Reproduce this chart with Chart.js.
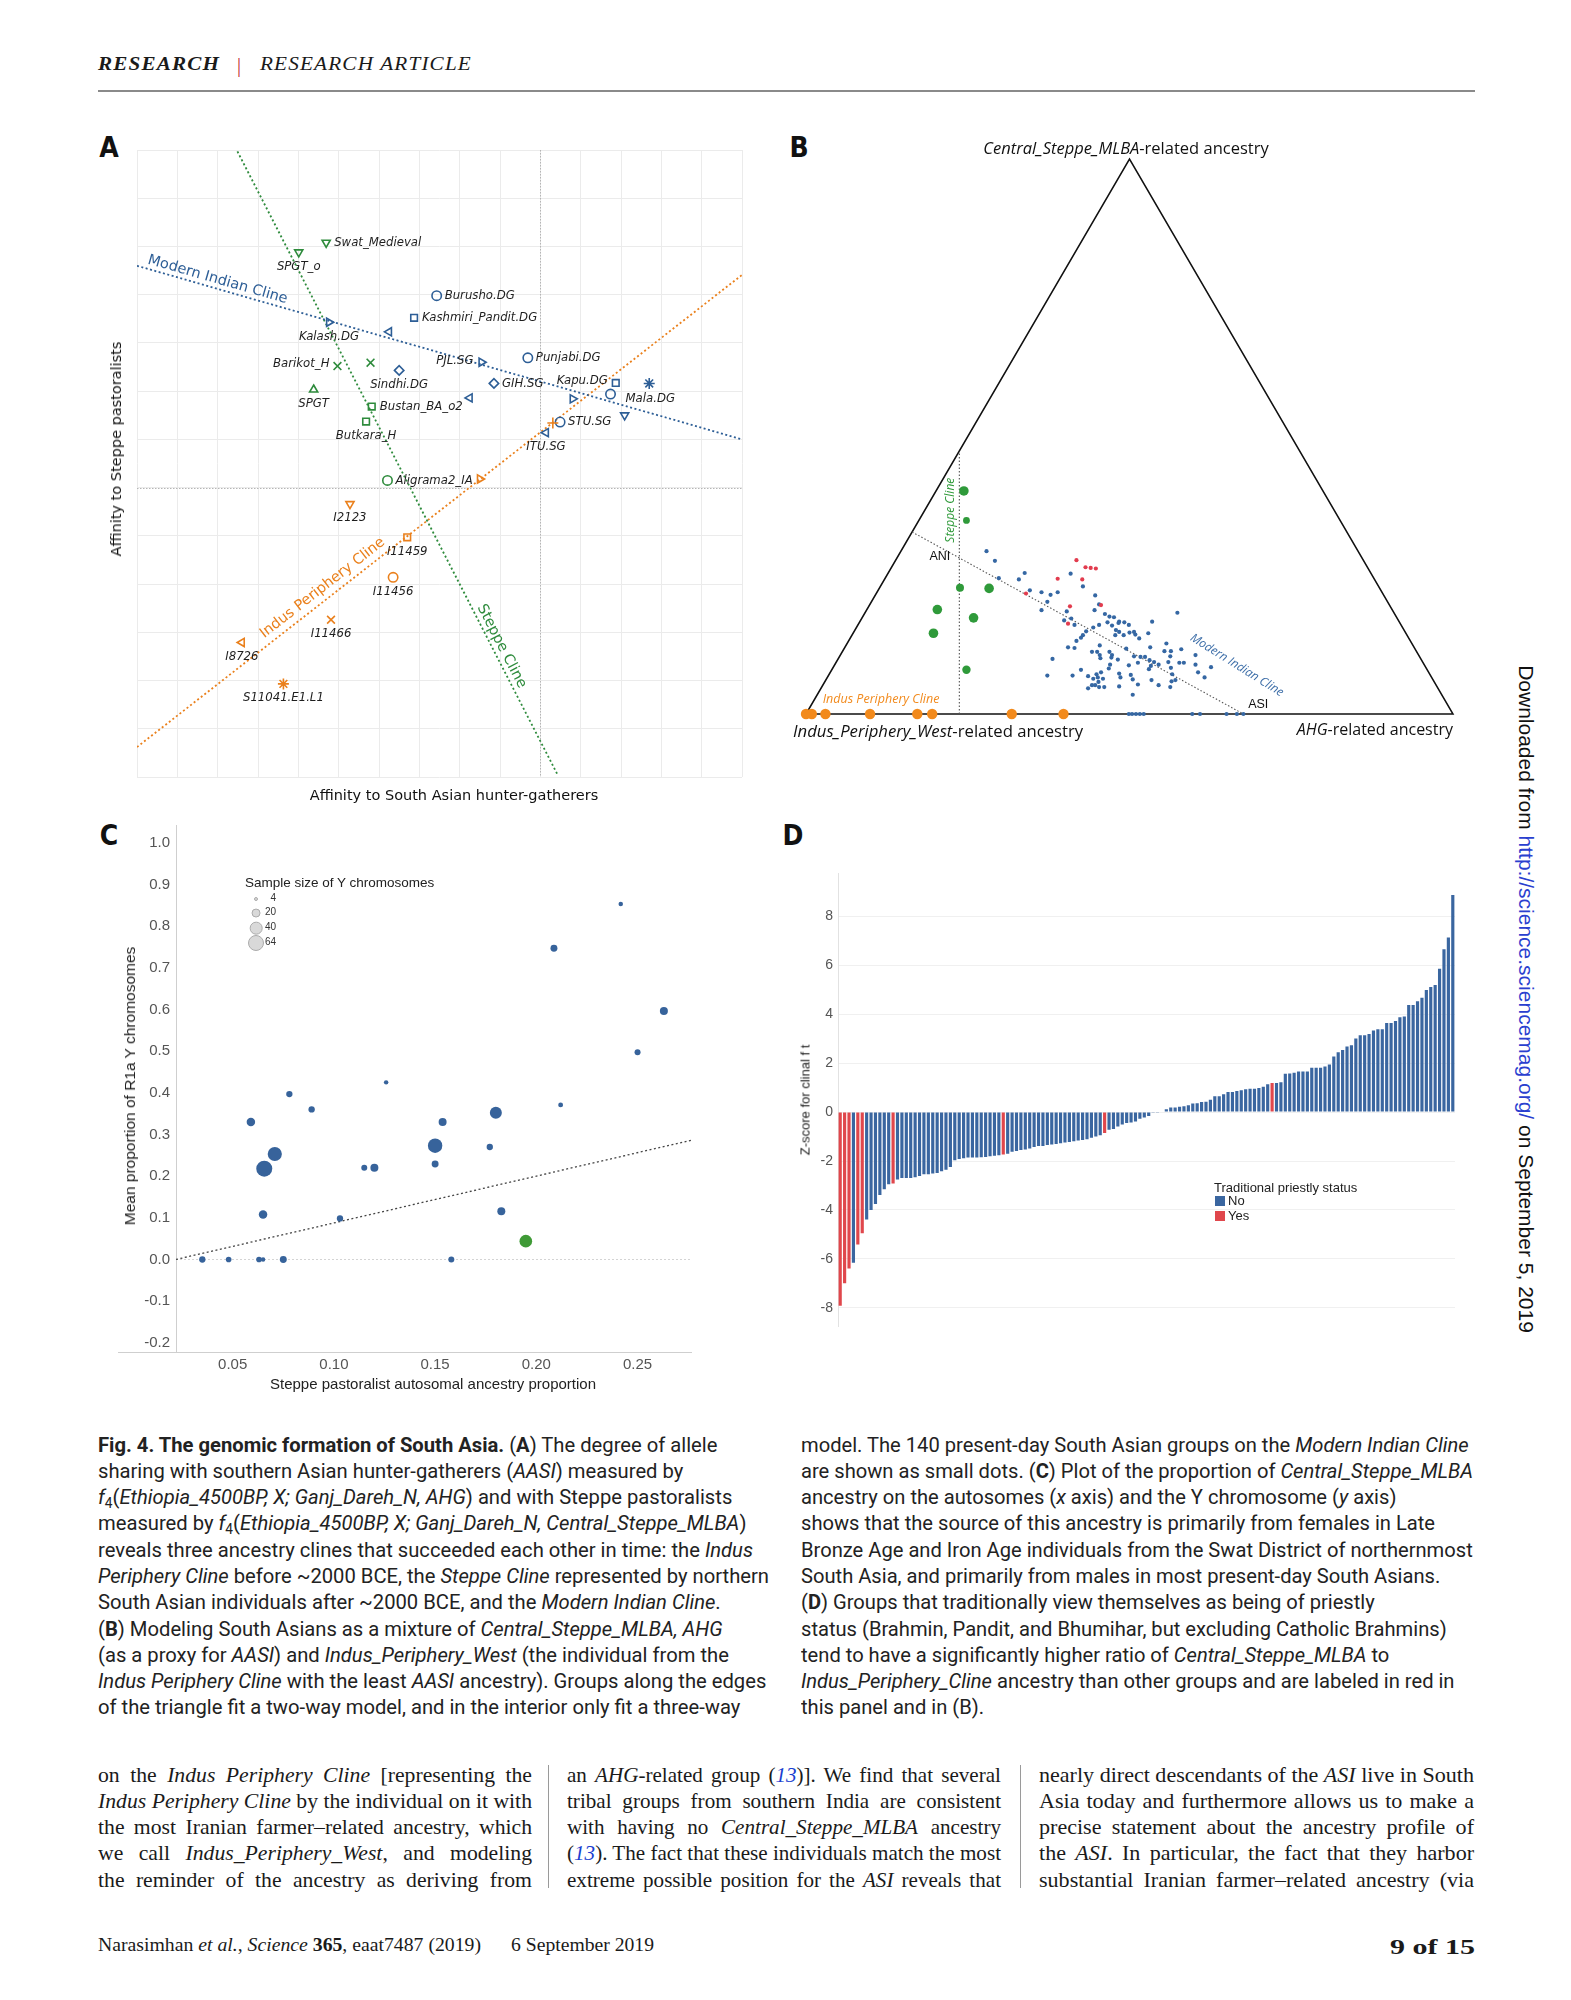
<!DOCTYPE html>
<html>
<head>
<meta charset="utf-8">
<title>Fig. 4. The genomic formation of South Asia</title>
<script src="https://cdn.jsdelivr.net/npm/chart.js@4.4.1/dist/chart.umd.min.js"></script>
<style>
  body { margin: 0; background: #fff; }
  #page { position: relative; width: 1571px; height: 2000px; overflow: hidden; background: #fff; color: #1a1a1a; font-family: "Liberation Sans", Arial, sans-serif; }
  .t { position: absolute; white-space: nowrap; }
  .mid { transform: translate(-50%, -50%); }
  .rot { transform: translate(-50%, -50%) rotate(-90deg); }
  .fit { transform-origin: left center; }
  canvas { position: absolute; }
  .letter { position: absolute; transform: translate(-50%, -50%); font: bold 28px "Liberation Sans Narrow", "DejaVu Sans Condensed", sans-serif; color: #111; }
  .cap { position: absolute; font-family: Roboto, "Liberation Sans", sans-serif; font-size: 21px; line-height: 26.3px; color: #222; }
  .cap div, .body div { width: max-content; white-space: nowrap; transform-origin: left center; }
  .cap sub { font-size: 0.68em; vertical-align: -0.3em; line-height: 0; }
  .body { position: absolute; width: 434px; font-family: "Liberation Serif", "DejaVu Serif", serif; font-size: 21px; line-height: 26.2px; color: #1a1a1a; }
  .ref { color: #1a3fd0; font-style: italic; }
  .sep { position: absolute; width: 1px; background: #9a9a9a; }
  .lgc { position: absolute; border-radius: 50%; background: #d9d9d9; border: 1px solid #ababab; box-sizing: border-box; transform: translate(-50%, -50%); }
</style>
</head>
<body>
<div id="page">

  <!-- running head -->
  <div class="t fit" data-w="122" style="left:98px;top:54px;line-height:24px;font:italic bold 18px 'Liberation Serif',serif;letter-spacing:1px;">RESEARCH</div>
  <div class="t" style="left:237px;top:54px;line-height:24px;font:20px 'Liberation Serif',serif;color:#c0272d;">|</div>
  <div class="t fit" data-w="212" style="left:260px;top:54px;line-height:24px;font:italic 18px 'Liberation Serif',serif;letter-spacing:1px;">RESEARCH ARTICLE</div>
  <div style="position:absolute;left:98px;top:90px;width:1377px;height:1.5px;background:#8a8a8a;"></div>

  <!-- panel letters -->
  <div class="letter" style="left:109px;top:147px;">A</div>
  <div class="letter" style="left:799px;top:147px;">B</div>
  <div class="letter" style="left:109px;top:835px;">C</div>
  <div class="letter" style="left:793px;top:835px;">D</div>

  <!-- charts -->
  <canvas id="chartA" width="670" height="680" style="left:90px;top:130px;"></canvas>
  <canvas id="chartB" width="700" height="620" style="left:780px;top:130px;"></canvas>
  <canvas id="chartC" width="610" height="580" style="left:95px;top:810px;"></canvas>
  <canvas id="chartD" width="690" height="480" style="left:780px;top:860px;"></canvas>

  <!-- panel A titles -->
  <div class="t rot" style="left:116px;top:449px;font:14.5px 'DejaVu Sans',sans-serif;color:#111;">Affinity to Steppe pastoralists</div>
  <div class="t mid" style="left:454px;top:795px;font:14.5px 'DejaVu Sans',sans-serif;color:#111;">Affinity to South Asian hunter-gatherers</div>

  <!-- panel B vertex labels -->
  <div class="t mid" style="left:1126px;top:147px;font:16.5px 'Open Sans',sans-serif;color:#111;"><i>Central_Steppe_MLBA</i>-related ancestry</div>
  <div class="t" style="left:793px;top:719px;line-height:22px;font:16.7px 'Open Sans',sans-serif;color:#111;"><i>Indus_Periphery_West</i>-related ancestry</div>
  <div class="t" style="right:118px;top:718px;line-height:22px;font:16px 'Open Sans',sans-serif;color:#111;"><i>AHG</i>-related ancestry</div>

  <!-- panel C titles and size legend -->
  <div class="t rot" style="left:130px;top:1086px;font:15.5px 'Liberation Sans',Arial,sans-serif;color:#222;">Mean proportion of R1a Y chromosomes</div>
  <div class="t mid" style="left:433px;top:1383px;font:15px 'Liberation Sans',Arial,sans-serif;color:#222;">Steppe pastoralist autosomal ancestry proportion</div>
  <div class="t" style="left:245px;top:875px;line-height:16px;font:13.5px 'Liberation Sans',Arial,sans-serif;color:#222;">Sample size of Y chromosomes</div>
  <div id="sizeLegend"></div>

  <!-- panel D titles and legend -->
  <div class="t rot" style="left:805px;top:1100px;font:13px 'Liberation Sans',Arial,sans-serif;color:#222;">Z-score for clinal f t</div>
  <div class="t" style="left:1214px;top:1180px;line-height:16px;font:13px 'Liberation Sans',Arial,sans-serif;color:#222;">Traditional priestly status</div>
  <div style="position:absolute;left:1215px;top:1196px;width:10px;height:10px;background:#3a66a0;"></div>
  <div class="t" style="left:1228px;top:1193px;line-height:16px;font:13px 'Liberation Sans',Arial,sans-serif;color:#222;">No</div>
  <div style="position:absolute;left:1215px;top:1211px;width:10px;height:10px;background:#e0474c;"></div>
  <div class="t" style="left:1228px;top:1208px;line-height:16px;font:13px 'Liberation Sans',Arial,sans-serif;color:#222;">Yes</div>

  <!-- side stamp -->
  <div class="t" style="left:1526px;top:999px;transform:translate(-50%,-50%) rotate(90deg);font:21px 'Liberation Sans',Arial,sans-serif;color:#111;">Downloaded from <span style="color:#2a3fcf;">http://science.sciencemag.org/</span> on September 5, 2019</div>

  <!-- caption -->
  <div class="cap" id="capL" style="left:98px;top:1431.5px;">
    <div><b>Fig. 4. The genomic formation of South Asia.</b> (<b>A</b>) The degree of allele</div>
    <div>sharing with southern Asian hunter-gatherers (<i>AASI</i>) measured by</div>
    <div><i>f</i><sub>4</sub>(<i>Ethiopia_4500BP, X; Ganj_Dareh_N, AHG</i>) and with Steppe pastoralists</div>
    <div>measured by <i>f</i><sub>4</sub>(<i>Ethiopia_4500BP, X; Ganj_Dareh_N, Central_Steppe_MLBA</i>)</div>
    <div>reveals three ancestry clines that succeeded each other in time: the <i>Indus</i></div>
    <div><i>Periphery Cline</i> before ~2000 BCE, the <i>Steppe Cline</i> represented by northern</div>
    <div>South Asian individuals after ~2000 BCE, and the <i>Modern Indian Cline</i>.</div>
    <div>(<b>B</b>) Modeling South Asians as a mixture of <i>Central_Steppe_MLBA, AHG</i></div>
    <div>(as a proxy for <i>AASI</i>) and <i>Indus_Periphery_West</i> (the individual from the</div>
    <div><i>Indus Periphery Cline</i> with the least <i>AASI</i> ancestry). Groups along the edges</div>
    <div>of the triangle fit a two-way model, and in the interior only fit a three-way</div>
  </div>
  <div class="cap" id="capR" style="left:801px;top:1431.5px;">
    <div>model. The 140 present-day South Asian groups on the <i>Modern Indian Cline</i></div>
    <div>are shown as small dots. (<b>C</b>) Plot of the proportion of <i>Central_Steppe_MLBA</i></div>
    <div>ancestry on the autosomes (<i>x</i> axis) and the Y chromosome (<i>y</i> axis)</div>
    <div>shows that the source of this ancestry is primarily from females in Late</div>
    <div>Bronze Age and Iron Age individuals from the Swat District of northernmost</div>
    <div>South Asia, and primarily from males in most present-day South Asians.</div>
    <div>(<b>D</b>) Groups that traditionally view themselves as being of priestly</div>
    <div>status (Brahmin, Pandit, and Bhumihar, but excluding Catholic Brahmins)</div>
    <div>tend to have a significantly higher ratio of <i>Central_Steppe_MLBA</i> to</div>
    <div><i>Indus_Periphery_Cline</i> ancestry than other groups and are labeled in red in</div>
    <div>this panel and in (B).</div>
  </div>

  <!-- body text -->
  <div class="body" id="body1" style="left:98px;top:1761.7px;">
    <div>on the <i>Indus Periphery Cline</i> [representing the</div>
    <div><i>Indus Periphery Cline</i> by the individual on it with</div>
    <div>the most Iranian farmer–related ancestry, which</div>
    <div>we call <i>Indus_Periphery_West</i>, and modeling</div>
    <div>the reminder of the ancestry as deriving from</div>
  </div>
  <div class="sep" style="left:548px;top:1765px;height:123px;"></div>
  <div class="body" id="body2" style="left:567px;top:1761.7px;">
    <div>an <i>AHG</i>-related group (<span class="ref">13</span>)]. We find that several</div>
    <div>tribal groups from southern India are consistent</div>
    <div>with having no <i>Central_Steppe_MLBA</i> ancestry</div>
    <div>(<span class="ref">13</span>). The fact that these individuals match the most</div>
    <div>extreme possible position for the <i>ASI</i> reveals that</div>
  </div>
  <div class="sep" style="left:1020px;top:1765px;height:123px;"></div>
  <div class="body" id="body3" style="left:1039px;top:1761.7px;">
    <div>nearly direct descendants of the <i>ASI</i> live in South</div>
    <div>Asia today and furthermore allows us to make a</div>
    <div>precise statement about the ancestry profile of</div>
    <div>the <i>ASI</i>. In particular, the fact that they harbor</div>
    <div>substantial Iranian farmer–related ancestry (via</div>
  </div>

  <!-- footer -->
  <div class="t fit" data-w="383" style="left:98px;top:1935px;line-height:24px;font:18.5px 'Liberation Serif',serif;">Narasimhan <i>et al.</i>, <i>Science</i> <b>365</b>, eaat7487 (2019)</div>
  <div class="t fit" data-w="143" style="left:511px;top:1935px;line-height:24px;font:18.5px 'Liberation Serif',serif;">6 September 2019</div>
  <div class="t fit" data-w="85" style="left:1390px;top:1935px;line-height:24px;font:bold 21px 'Liberation Serif',serif;">9 of 15</div>
</div>

<script>
// ---------- panel A: f4 affinities ----------
const aNames = ['Swat_Medieval', 'SPGT_o', 'Burusho.DG', 'Kashmiri_Pandit.DG', 'Kalash.DG', '', 'Barikot_H', '', 'Sindhi.DG', 'SPGT',
  'PJL.SG', 'Punjabi.DG', 'GIH.SG', 'Kapu.DG', '', 'Mala.DG', '', '', '', 'Bustan_BA_o2',
  'Butkara_H', 'STU.SG', '', 'ITU.SG', 'Aligrama2_IA', '', 'I2123', 'I11459', 'I11456', 'I11466',
  'I8726', 'S11041.E1.L1'];
const aX = [4.69, 4.01, 7.43, 6.87, 4.76, 6.25, 4.97, 5.79, 6.50, 4.38,
  8.54, 9.69, 8.85, 11.87, 12.70, 11.74, 10.80, 8.25, 12.09, 5.82,
  5.68, 10.49, 10.31, 10.14, 6.21, 8.50, 5.28, 6.70, 6.35, 4.81,
  2.60, 3.63];
const aY = [11.08, 10.88, 9.98, 9.52, 9.43, 9.23, 8.52, 8.59, 8.43, 8.03,
  8.60, 8.69, 8.16, 8.17, 8.16, 7.94, 7.84, 7.86, 7.50, 7.68,
  7.37, 7.36, 7.34, 7.14, 6.15, 6.18, 5.66, 4.97, 4.14, 3.26,
  2.79, 1.93];
const aMarker = ['down', 'down', 'circle', 'square', 'right', 'left', 'x', 'x', 'diamond', 'up',
  'right', 'circle', 'diamond', 'square', 'star', 'circle', 'right', 'left', 'down', 'square',
  'square', 'circle', 'plus', 'left', 'circle', 'right', 'down', 'square', 'circle', 'x',
  'left', 'star'];
const aCline = ['steppe', 'steppe', 'modern', 'modern', 'modern', 'modern', 'steppe', 'steppe', 'modern', 'steppe',
  'modern', 'modern', 'modern', 'modern', 'modern', 'modern', 'modern', 'modern', 'modern', 'steppe',
  'steppe', 'modern', 'indus', 'modern', 'steppe', 'indus', 'indus', 'indus', 'indus', 'indus',
  'indus', 'indus'];
const modernClineX = [0, 15], modernClineY = [10.6, 7.0];
const steppeClineX = [2.49, 10.42], steppeClineY = [12.97, 0.06];
const indusClineX = [0, 15], indusClineY = [0.62, 10.41];
const aRefX = 10, aRefY = 6;

// ---------- panel B: ternary model (x 0..100 along base, y 0..86.6 up) ----------
const bTriX = [0, 100, 50, 0], bTriY = [0, 0, 86.6, 0];
const bSteppeLineX = [23.7, 23.7], bSteppeLineY = [0, 41];
const bModernLineX = [16.4, 67.6], bModernLineY = [28.4, 0];
const bBlueX = [27.9, 29.2, 29.8, 33.8, 32.9, 40.9, 42.8, 34.6, 36.4, 37.8,
  38.9, 37.3, 36.4, 44.7, 45.3, 40.3, 41.0, 39.9, 44.6, 46.2,
  46.9, 47.6, 48.4, 49.2, 49.9, 46.6, 45.3, 47.3, 47.9, 48.4,
  49.1, 50.0, 50.7, 50.9, 51.5, 41.5, 43.3, 42.8, 42.5, 41.8,
  47.8, 53.5, 52.9, 57.4, 40.5, 41.5, 44.2, 45.0, 45.4, 45.5,
  46.9, 47.3, 47.2, 48.2, 49.5, 50.7, 51.7, 51.3, 53.2, 52.4,
  53.1, 53.3, 53.0, 53.8, 54.5, 55.4, 55.7, 56.4, 56.3, 56.0,
  56.4, 56.6, 57.1, 57.7, 58.0, 58.4, 60.2, 60.2, 60.6, 61.6,
  62.6, 38.1, 37.3, 41.2, 42.5, 43.6, 44.4, 44.9, 45.1, 45.6,
  45.9, 45.2, 44.7, 44.2, 43.6, 45.3, 46.1, 47.0, 46.8, 48.4,
  48.6, 48.4, 49.9, 50.2, 50.5, 51.3, 50.5, 53.4, 54.5, 56.3,
  56.5, 45.4, 44.4, 48.3,
  49.9, 50.4, 51.0, 51.6, 52.2, 59.7, 60.9, 65.0, 66.6, 67.6];
const bBlueY = [25.4, 23.9, 21.2, 22.0, 21.0, 21.9, 19.9, 19.3, 19.0, 18.6,
  19.0, 17.5, 16.2, 18.5, 17.1, 16.0, 14.9, 14.6, 16.2, 15.6,
  15.2, 15.1, 14.4, 14.3, 13.9, 14.3, 13.9, 13.8, 13.1, 12.8,
  12.3, 12.7, 12.8, 12.4, 11.8, 13.9, 12.9, 12.3, 11.9, 11.4,
  12.3, 14.4, 12.6, 15.8, 10.4, 10.3, 9.7, 9.7, 9.2, 8.7,
  9.7, 9.2, 8.8, 8.5, 10.2, 9.0, 8.9, 8.0, 10.4, 8.9,
  8.4, 7.5, 7.0, 8.1, 7.7, 9.8, 11.0, 9.8, 9.0, 8.1,
  7.2, 6.2, 5.3, 8.0, 10.1, 8.0, 9.2, 7.7, 6.5, 5.7,
  7.3, 8.6, 6.0, 6.0, 6.9, 5.9, 5.5, 6.2, 5.7, 6.5,
  5.5, 5.0, 4.5, 4.5, 4.0, 4.2, 4.2, 7.7, 7.1, 6.3,
  5.7, 4.3, 7.6, 6.1, 5.4, 4.6, 3.0, 5.3, 4.5, 4.2,
  5.1, 10.7, 13.5, 14.2,
  0, 0, 0, 0, 0, 0, 0, 0, 0, 0];
const bRedX = [41.8, 43.2, 44.0, 44.8, 38.9, 42.7, 34.0, 45.6, 40.8, 40.5];
const bRedY = [24.0, 22.9, 22.8, 22.7, 21.1, 21.0, 18.8, 17.0, 16.8, 14.1];
const bGreenX = [24.4, 24.8, 23.8, 28.3, 20.3, 25.9, 19.7, 24.8];
const bGreenY = [34.8, 30.2, 19.7, 19.6, 16.3, 15.0, 12.6, 6.9];
const bOrangeX = [0, 0.9, 3.0, 9.9, 17.2, 19.5, 31.8, 39.8];
const bOrangeY = [0, 0, 0, 0, 0, 0, 0, 0];

// ---------- panel C: autosomal vs Y-chromosome steppe ancestry ----------
const cX = [0.035, 0.048, 0.063, 0.065, 0.075, 0.158, 0.059, 0.078, 0.089, 0.0656,
  0.0708, 0.065, 0.103, 0.1258, 0.115, 0.120, 0.150, 0.150, 0.1537, 0.180,
  0.177, 0.1827, 0.2087, 0.212, 0.2417, 0.263, 0.250];
const cY = [0, 0, 0, 0, 0, 0, 0.33, 0.397, 0.36, 0.218,
  0.253, 0.108, 0.0985, 0.425, 0.22, 0.22, 0.273, 0.229, 0.33, 0.352,
  0.27, 0.116, 0.747, 0.371, 0.853, 0.596, 0.497];
const cN = [10, 8, 8, 5, 12, 9, 18, 10, 10, 64,
  50, 18, 10, 5, 9, 16, 52, 12, 16, 36,
  10, 16, 12, 6, 5, 16, 9];
const cSwatX = [0.1948], cSwatY = [0.044], cSwatN = [40];
const cFitX = [0.022, 0.2764], cFitY = [0, 0.286];
const cRefY = 0;
const cTicksX = [0.05, 0.10, 0.15, 0.20, 0.25];
const cTicksY = [-0.2, -0.1, 0, 0.1, 0.2, 0.3, 0.4, 0.5, 0.6, 0.7, 0.8, 0.9, 1.0];
const cLegendN = [4, 20, 40, 64];

// ---------- panel D: Z-scores, sorted ----------
const dZ = [-7.92, -7.00, -6.39, -6.16, -5.41, -4.95, -4.39, -4.00, -3.76, -3.39,
  -3.15, -2.95, -2.92, -2.76, -2.69, -2.69, -2.69, -2.66, -2.61, -2.54,
  -2.54, -2.51, -2.49, -2.42, -2.36, -2.24, -1.97, -1.92, -1.89, -1.86,
  -1.86, -1.86, -1.85, -1.84, -1.81, -1.78, -1.76, -1.73, -1.70, -1.62,
  -1.59, -1.55, -1.53, -1.49, -1.43, -1.39, -1.39, -1.35, -1.32, -1.30,
  -1.27, -1.24, -1.22, -1.19, -1.16, -1.14, -1.11, -1.05, -1.00, -0.95,
  -0.85, -0.72, -0.69, -0.59, -0.51, -0.45, -0.42, -0.38, -0.27, -0.22,
  -0.16, -0.03, -0.03, 0.02, 0.12, 0.19, 0.19, 0.22, 0.24, 0.28,
  0.35, 0.36, 0.41, 0.42, 0.51, 0.65, 0.65, 0.73, 0.82, 0.82,
  0.86, 0.89, 0.93, 0.96, 0.96, 0.99, 1.04, 1.14, 1.19, 1.19,
  1.22, 1.57, 1.58, 1.61, 1.66, 1.66, 1.66, 1.81, 1.81, 1.81,
  1.86, 1.95, 2.27, 2.45, 2.54, 2.68, 2.73, 3.01, 3.14, 3.14,
  3.19, 3.34, 3.39, 3.39, 3.64, 3.64, 3.73, 3.88, 3.91, 4.38,
  4.38, 4.53, 4.68, 4.99, 5.12, 5.20, 5.86, 6.66, 7.14, 8.88];
const dPriestly = [0, 1, 2, 4, 5, 12, 37, 60, 98];
const dTicksY = [-8, -6, -4, -2, 0, 2, 4, 6, 8];

// ---------- shared bits ----------
Chart.defaults.font.family = '"Liberation Sans", Arial, sans-serif';
Chart.defaults.color = '#555';

const BLUE_A = '#2d5e96', GREEN_A = '#2e8b3c', ORANGE_A = '#ea801c';
const BLUE_B = '#3567a3', RED_B = '#e23c4e', GREEN_B = '#2f9a3a', ORANGE_B = '#f28a1c';

function pts(xs, ys) {
    return xs.map((x, i) => ({ x, y: ys[i] }));
}

function dotted(xs, ys, colour, width, dash) {
    return { data: pts(xs, ys), showLine: true, borderColor: colour, borderWidth: width,
        borderDash: dash, pointRadius: 0, fill: false };
}

function baseOptions(padding) {
    return {
        responsive: false,
        animation: false,
        devicePixelRatio: 1,
        events: [],
        layout: { padding },
        plugins: { legend: { display: false }, tooltip: { enabled: false } }
    };
}

// write text centred on a data point, turned to follow a line
function textAlong(chart, text, px, py, lx, ly, colour) {
    const { ctx, scales: { x, y } } = chart;
    const ang = Math.atan2(y.getPixelForValue(ly[1]) - y.getPixelForValue(ly[0]),
        x.getPixelForValue(lx[1]) - x.getPixelForValue(lx[0]));
    ctx.save();
    ctx.translate(x.getPixelForValue(px), y.getPixelForValue(py));
    ctx.rotate(ang);
    ctx.fillStyle = colour;
    ctx.textAlign = 'center';
    ctx.textBaseline = 'middle';
    ctx.fillText(text, 0, 0);
    ctx.restore();
}

// ---------- chart A ----------
const markerStyle = {
    down: ['triangle', 180], up: ['triangle', 0], right: ['triangle', 90], left: ['triangle', 270],
    circle: ['circle', 0], square: ['rect', 0], diamond: ['rectRot', 0],
    x: ['crossRot', 0], plus: ['cross', 0], star: ['star', 0]
};
const clineColour = { modern: BLUE_A, steppe: GREEN_A, indus: ORANGE_A };
// where each name sits relative to its marker
const aLabelSide = ['r', 'b', 'r', 'r', 'b', '', 'l', '', 'b', 'b',
    'l', 'r', 'r', 'l', '', 'rb', '', '', '', 'r',
    'b', 'r', '', 'b', 'r', '', 'b', 'b', 'b', 'b',
    'b', 'b'];

const aDecor = {
    id: 'aDecor',
    beforeDatasetsDraw(chart) {
        const { ctx, chartArea: ca, scales: { x, y } } = chart;
        ctx.save();
        ctx.strokeStyle = '#b5b5b5';
        ctx.lineWidth = 1;
        ctx.setLineDash([1.5, 1.5]);
        const px = Math.round(x.getPixelForValue(aRefX)) + 0.5;
        const py = Math.round(y.getPixelForValue(aRefY)) + 0.5;
        ctx.beginPath();
        ctx.moveTo(px, ca.top); ctx.lineTo(px, ca.bottom);
        ctx.moveTo(ca.left, py); ctx.lineTo(ca.right, py);
        ctx.stroke();
        ctx.restore();
    },
    afterDatasetsDraw(chart) {
        const { ctx, scales: { x, y } } = chart;
        ctx.save();
        ctx.font = 'italic 13px "DejaVu Sans Condensed", "Liberation Sans Narrow", sans-serif';
        ctx.fillStyle = '#1e1e1e';
        ctx.textBaseline = 'middle';
        aNames.forEach((name, i) => {
            if (!name) return;
            const px = x.getPixelForValue(aX[i]), py = y.getPixelForValue(aY[i]);
            const side = aLabelSide[i];
            if (side === 'r') { ctx.textAlign = 'left'; ctx.fillText(name, px + 8, py); }
            else if (side === 'l') { ctx.textAlign = 'right'; ctx.fillText(name, px - 8, py - 2); }
            else if (side === 'rb') { ctx.textAlign = 'left'; ctx.fillText(name, px + 15, py + 5); }
            else { ctx.textAlign = 'center'; ctx.fillText(name, px, py + 14); }
        });
        ctx.font = '14.5px "DejaVu Sans", sans-serif';
        textAlong(chart, 'Modern Indian Cline', 2.0, 10.31, modernClineX, modernClineY, BLUE_A);
        textAlong(chart, 'Indus Periphery Cline', 4.6, 3.92, indusClineX, indusClineY, ORANGE_A);
        textAlong(chart, 'Steppe Cline', 9.04, 2.71, steppeClineX, steppeClineY, GREEN_A);
        ctx.restore();
    }
};

const optA = baseOptions({ left: 47, top: 20, right: 18, bottom: 33 });
optA.scales = {
    x: { type: 'linear', min: 0, max: 15, ticks: { display: false, stepSize: 1 },
        grid: { color: '#ebebeb', drawTicks: false }, border: { display: false },
        afterFit: s => { s.height = 0; } },
    y: { type: 'linear', min: 0, max: 13, ticks: { display: false, stepSize: 1 },
        grid: { color: '#ebebeb', drawTicks: false }, border: { display: false },
        afterFit: s => { s.width = 0; } }
};

new Chart(document.getElementById('chartA'), {
    type: 'scatter',
    data: {
        datasets: [
            {
                data: pts(aX, aY),
                pointStyle: aMarker.map(m => markerStyle[m][0]),
                pointRotation: aMarker.map(m => markerStyle[m][1]),
                pointRadius: aMarker.map(m => (m === 'x' || m === 'plus' || m === 'star') ? 5.5 : 4.7),
                pointBorderColor: aCline.map(c => clineColour[c]),
                pointBackgroundColor: 'rgba(0,0,0,0)',
                pointBorderWidth: 1.6,
                clip: false
            },
            dotted(modernClineX, modernClineY, BLUE_A, 1.8, [2, 2.5]),
            dotted(steppeClineX, steppeClineY, GREEN_A, 1.8, [2, 2.5]),
            dotted(indusClineX, indusClineY, ORANGE_A, 1.8, [2, 2.5])
        ]
    },
    options: optA,
    plugins: [aDecor]
});

// ---------- chart B ----------
const bGreenR = [4.8, 3.4, 4.0, 4.8, 4.8, 4.8, 4.8, 4.2];

const bDecor = {
    id: 'bDecor',
    afterDatasetsDraw(chart) {
        const { ctx, scales: { x, y } } = chart;
        ctx.save();
        ctx.font = '12.5px "Liberation Sans", Arial, sans-serif';
        ctx.fillStyle = '#111';
        ctx.textAlign = 'center';
        ctx.textBaseline = 'middle';
        ctx.fillText('ANI', x.getPixelForValue(20.7), y.getPixelForValue(24.5));
        ctx.fillText('ASI', x.getPixelForValue(69.9), y.getPixelForValue(1.4));

        ctx.font = 'italic 12px "Open Sans", sans-serif';
        ctx.save();
        ctx.translate(x.getPixelForValue(22.3), y.getPixelForValue(31.8));
        ctx.rotate(-Math.PI / 2);
        ctx.fillStyle = GREEN_B;
        ctx.fillText('Steppe Cline', 0, 0);
        ctx.restore();

        ctx.save();
        ctx.translate(x.getPixelForValue(66.6), y.getPixelForValue(7.6));
        ctx.rotate(32 * Math.PI / 180);
        ctx.fillStyle = '#3d6ea8';
        ctx.fillText('Modern Indian Cline', 0, 0);
        ctx.restore();

        ctx.font = 'italic 12.5px "Open Sans", sans-serif';
        ctx.fillStyle = ORANGE_B;
        ctx.fillText('Indus Periphery Cline', x.getPixelForValue(11.6), y.getPixelForValue(2.3));
        ctx.restore();
    }
};

const optB = baseOptions({ left: 26, top: 29, right: 27, bottom: 36 });
optB.scales = {
    x: { type: 'linear', min: 0, max: 100, display: false },
    y: { type: 'linear', min: 0, max: 86.6, display: false }
};

new Chart(document.getElementById('chartB'), {
    type: 'scatter',
    data: {
        datasets: [
            { data: pts(bOrangeX, bOrangeY), pointRadius: 5.2, pointBackgroundColor: ORANGE_B, pointBorderWidth: 0, clip: false },
            { data: pts(bGreenX, bGreenY), pointRadius: bGreenR, pointBackgroundColor: GREEN_B, pointBorderWidth: 0, clip: false },
            { data: pts(bRedX, bRedY), pointRadius: 2.1, pointBackgroundColor: RED_B, pointBorderWidth: 0, clip: false },
            { data: pts(bBlueX, bBlueY), pointRadius: 2.1, pointBackgroundColor: BLUE_B, pointBorderWidth: 0, clip: false },
            dotted(bSteppeLineX, bSteppeLineY, '#555', 1.1, [1.5, 2]),
            dotted(bModernLineX, bModernLineY, '#555', 1.1, [1.5, 2]),
            Object.assign(dotted(bTriX, bTriY, '#111', 1.5, []), { clip: false })
        ]
    },
    options: optB,
    plugins: [bDecor]
});

// ---------- chart C ----------
const cDecor = {
    id: 'cDecor',
    beforeDatasetsDraw(chart) {
        const { ctx, chartArea: ca, scales: { y } } = chart;
        const py = Math.round(y.getPixelForValue(cRefY)) + 0.5;
        ctx.save();
        ctx.lineWidth = 1;
        ctx.strokeStyle = '#d4d4d4';
        ctx.setLineDash([2, 2]);
        ctx.beginPath(); ctx.moveTo(ca.left, py); ctx.lineTo(ca.right, py); ctx.stroke();
        ctx.setLineDash([]);
        ctx.strokeStyle = '#cfcfcf';
        ctx.beginPath(); ctx.moveTo(ca.left - 58, ca.bottom + 0.5); ctx.lineTo(ca.left, ca.bottom + 0.5); ctx.stroke();
        ctx.restore();
    }
};

const optC = baseOptions({ left: 0, top: 13.7, right: 14, bottom: 0 });
optC.scales = {
    x: { type: 'linear', min: 0.022, max: 0.2764,
        afterBuildTicks: s => { s.ticks = cTicksX.map(v => ({ value: v })); },
        ticks: { color: '#555', font: { size: 15 }, padding: 4, autoSkip: false, maxRotation: 0, callback: v => v.toFixed(2) },
        grid: { display: false, drawTicks: false }, border: { color: '#cfcfcf' },
        afterFit: s => { s.height = 38; } },
    y: { type: 'linear', min: -0.222, max: 1.0426,
        afterBuildTicks: s => { s.ticks = cTicksY.map(v => ({ value: v })); },
        ticks: { color: '#555', font: { size: 15 }, padding: 6, autoSkip: false, callback: v => v.toFixed(1) },
        grid: { display: false, drawTicks: false }, border: { color: '#cfcfcf' },
        afterFit: s => { s.width = 81; } }
};

new Chart(document.getElementById('chartC'), {
    type: 'bubble',
    data: {
        datasets: [
            { data: cSwatX.map((x, i) => ({ x, y: cSwatY[i], r: Math.sqrt(cSwatN[i]) })), backgroundColor: '#3f9a36', borderWidth: 0 },
            { data: cX.map((x, i) => ({ x, y: cY[i], r: Math.sqrt(cN[i]) })), backgroundColor: '#37639b', borderWidth: 0 },
            { type: 'scatter', data: pts(cFitX, cFitY), showLine: true, borderColor: '#444', borderWidth: 1.3, borderDash: [2, 2.5], pointRadius: 0 }
        ]
    },
    options: optC,
    plugins: [cDecor]
});

// size legend for C
const legendBox = document.getElementById('sizeLegend');
const legendRowY = [898.6, 913.4, 927.9, 942.7];
cLegendN.forEach((n, i) => {
    const r = Math.sqrt(n);
    const dot = document.createElement('div');
    dot.className = 'lgc';
    dot.style.left = '256px';
    dot.style.top = legendRowY[i] + 'px';
    dot.style.width = dot.style.height = (2 * r) + 'px';
    legendBox.appendChild(dot);
    const lab = document.createElement('div');
    lab.className = 't';
    lab.style.cssText = `right:${1571 - 276}px;top:${legendRowY[i] - 7}px;line-height:14px;font:10px 'Liberation Sans',Arial,sans-serif;color:#333;`;
    lab.textContent = n;
    legendBox.appendChild(lab);
});

// ---------- chart D ----------
const optD = baseOptions({ left: 0, top: 10, right: 15, bottom: 13.3 });
optD.scales = {
    x: { type: 'category', display: false },
    y: { type: 'linear', min: -8.77, max: 9.76,
        afterBuildTicks: s => { s.ticks = dTicksY.map(v => ({ value: v })); },
        ticks: { color: '#555', font: { size: 14 }, padding: 5, autoSkip: false },
        grid: { color: '#f0f0f0', drawTicks: false }, border: { color: '#e2e2e2' },
        afterFit: s => { s.width = 58; } }
};

new Chart(document.getElementById('chartD'), {
    type: 'bar',
    data: {
        labels: dZ.map((_, i) => i + 1),
        datasets: [{
            data: dZ,
            backgroundColor: dZ.map((_, i) => dPriestly.includes(i) ? '#e0474c' : '#3a66a0'),
            borderWidth: 0,
            barPercentage: 0.72,
            categoryPercentage: 1.0
        }]
    },
    options: optD
});

// ---------- text fitting ----------
document.querySelectorAll('[data-w]').forEach(el => {
    const w = el.getBoundingClientRect().width;
    el.style.transform = `scaleX(${el.dataset.w / w})`;
});

function fitColumn(id, width) {
    const lines = [...document.querySelectorAll('#' + id + ' > div')];
    const widest = Math.max(...lines.map(l => l.getBoundingClientRect().width));
    lines.forEach(l => { l.style.transform = `scaleX(${width / widest})`; });
}
fitColumn('capL', 671);
fitColumn('capR', 672);

// justified body columns: one squeeze per column, then spread the words
function justifyColumn(id, width) {
    const lines = [...document.querySelectorAll('#' + id + ' > div')];
    const widths = lines.map(l => l.getBoundingClientRect().width);
    const k = width / Math.max(...widths);
    lines.forEach((l, i) => {
        const spaces = (l.textContent.match(/ /g) || []).length;
        const room = width / k - widths[i];
        if (spaces && room > 0) l.style.wordSpacing = (room / spaces) + 'px';
        l.style.transform = `scaleX(${k})`;
    });
}
justifyColumn('body1', 434);
justifyColumn('body2', 434);
justifyColumn('body3', 435);
</script>
</body>
</html>
